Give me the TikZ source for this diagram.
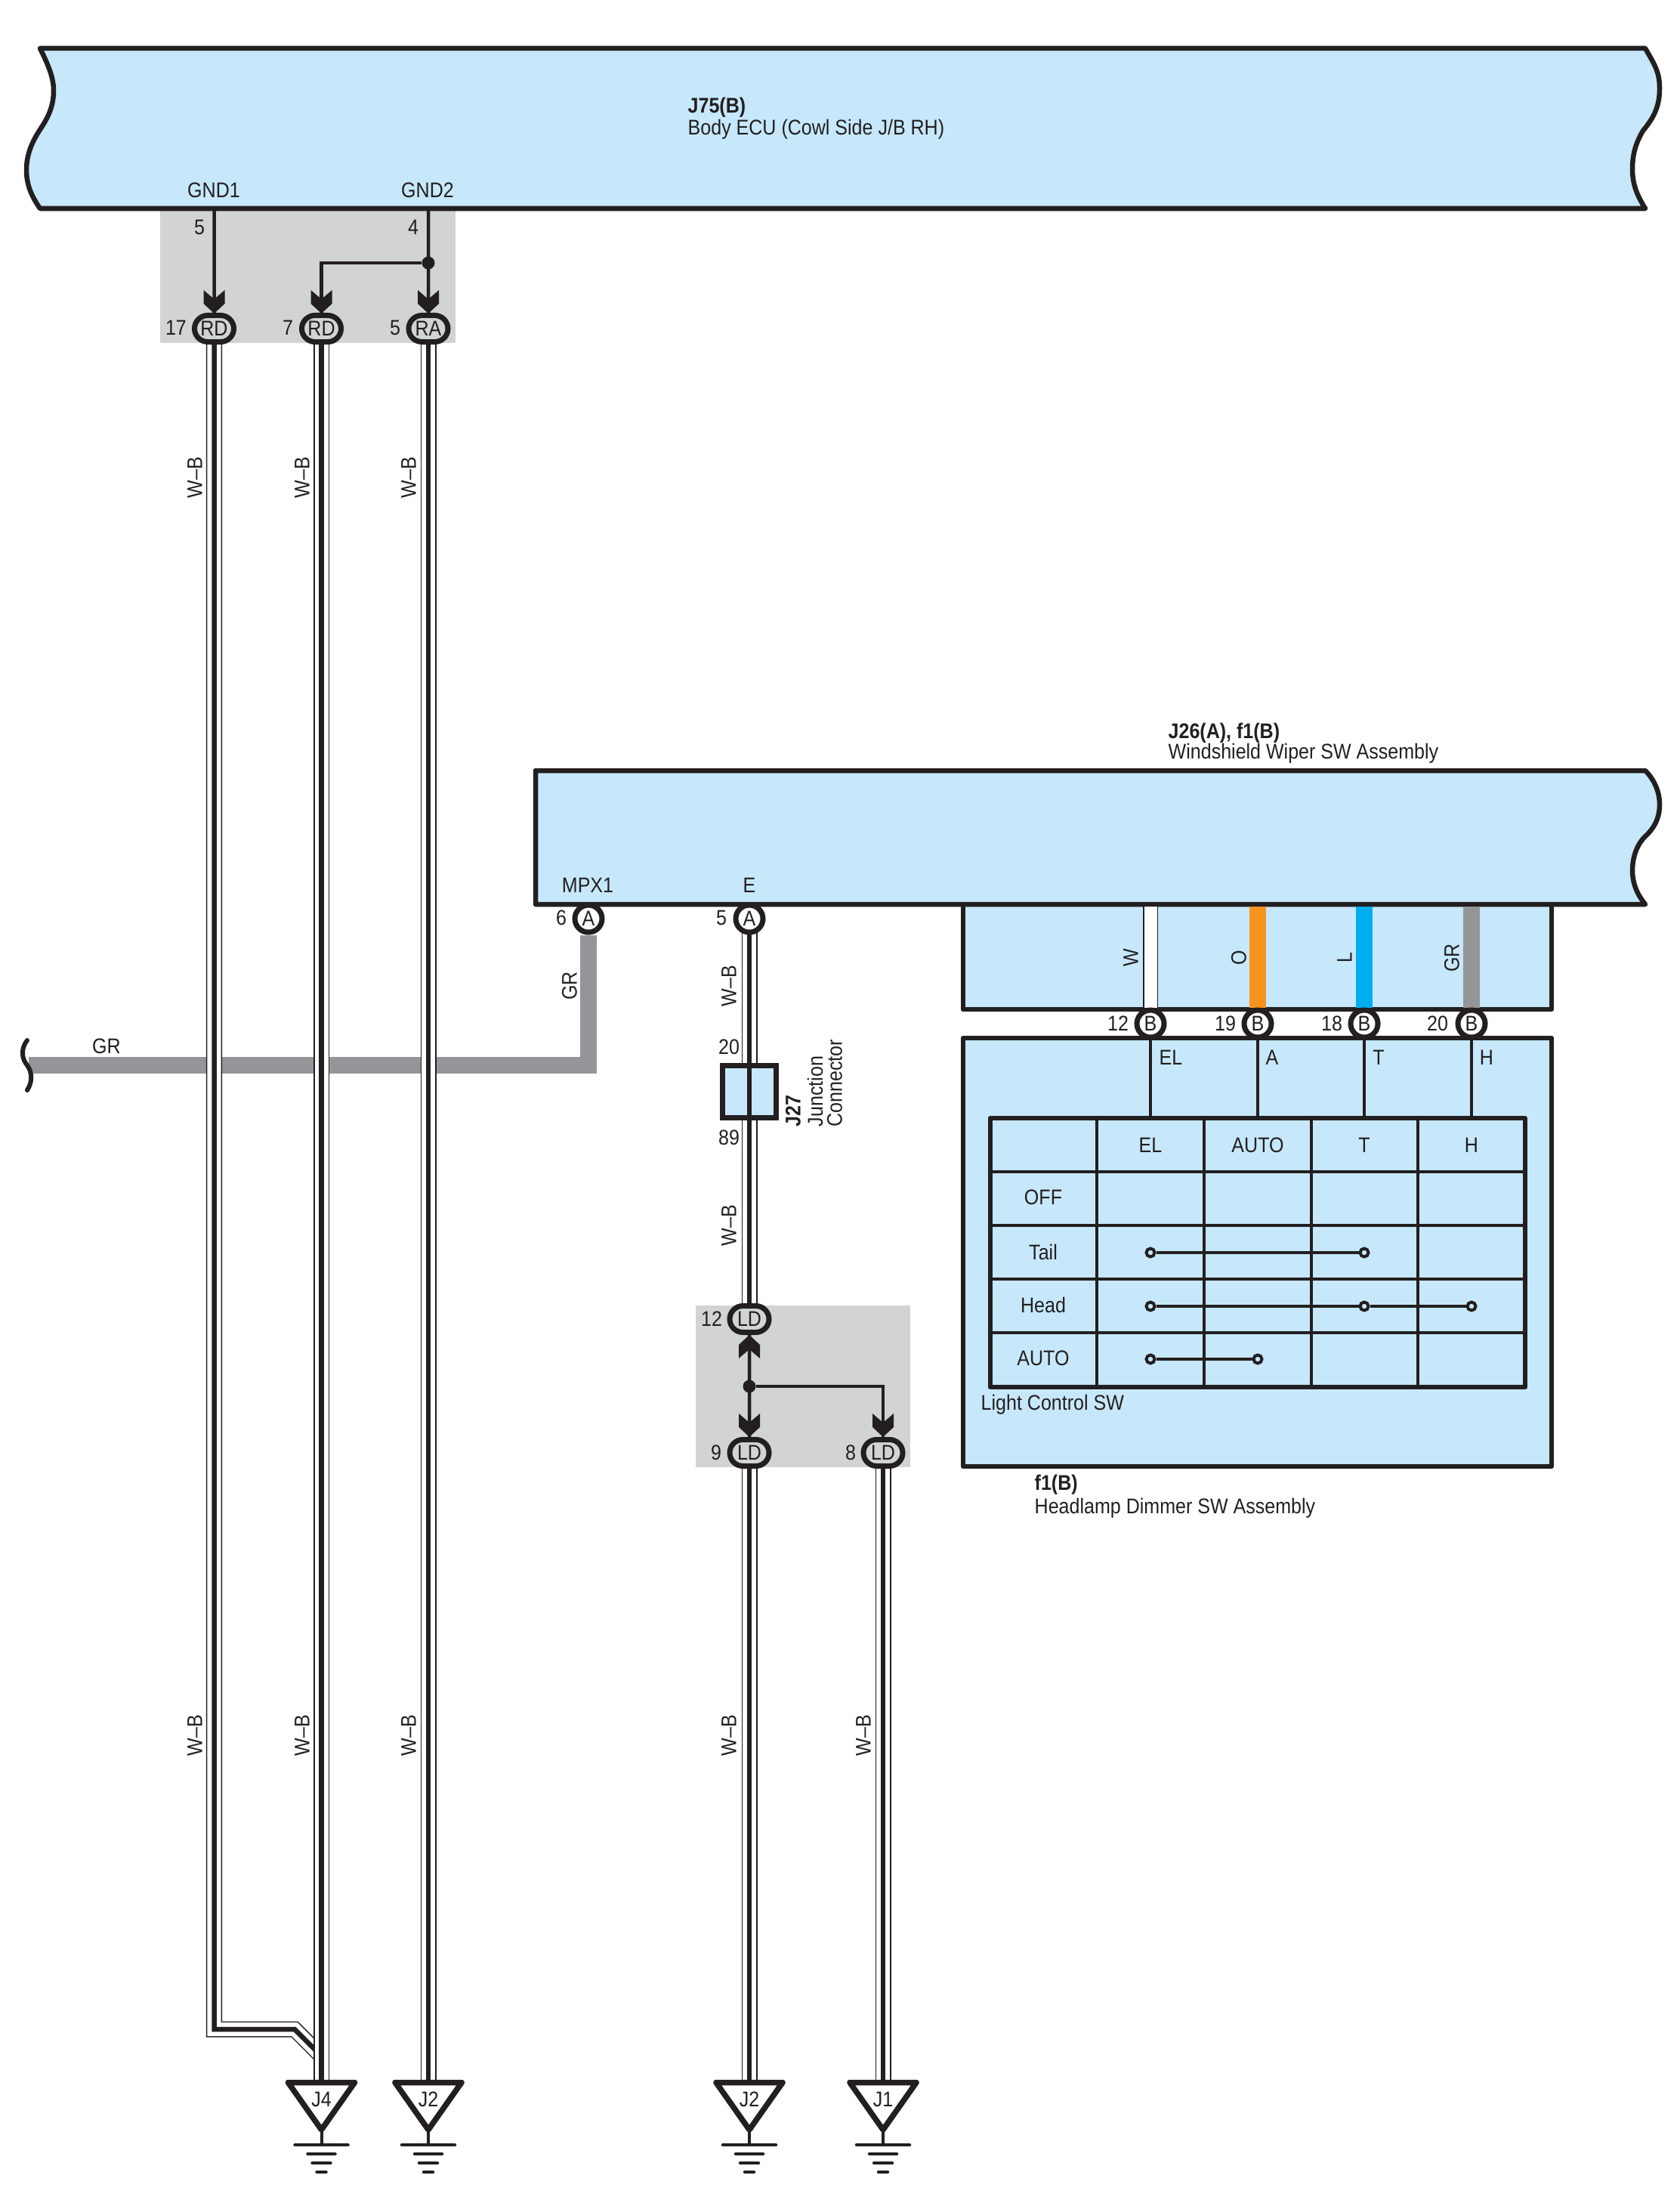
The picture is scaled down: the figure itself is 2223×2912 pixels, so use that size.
\documentclass[tikz,border=0pt]{standalone}
\usepackage{fontspec}
\setmainfont[FakeStretch=0.89]{Liberation Sans}
\usetikzlibrary{shapes.misc}
\usetikzlibrary{backgrounds}

\definecolor{ink}{HTML}{231F20}
\definecolor{boxblue}{HTML}{C7E8FB}
\definecolor{boxgray}{HTML}{D1D3D4}
\definecolor{wiregray}{HTML}{939598}
\definecolor{wireorange}{HTML}{F7941E}
\definecolor{wireblue}{HTML}{00AEEF}

\tikzset{
  lbl/.style={inner sep=0pt,text=ink,font=\fontsize{8}{9.6}\selectfont},
  vlbl/.style={lbl,rotate=90},
  boldlbl/.style={lbl,font=\fontsize{8}{9.6}\selectfont\bfseries},
  boxline/.style={draw=ink,fill=boxblue,line width=.065cm,line join=round},
  thinwire/.style={draw=ink,line width=.045cm},
  wbwire/.style={draw=ink,line width=.065cm,
    preaction={draw=ink,line width=.21cm},
    preaction={draw=white,line width=.18cm}},
  colwire/.style={line width=.22cm},
  oval/.style={lbl,draw=ink,line width=.07cm,rounded rectangle,
    minimum width=.52cm,minimum height=.35cm,fill=boxgray},
  pin/.style={lbl,draw=ink,line width=.07cm,circle,minimum size=.36cm,fill=white},
  dot/.style={circle,fill=ink,inner sep=0pt,minimum size=.17cm},
  contact/.style={circle,draw=ink,fill=boxblue,line width=.04cm,inner sep=0pt,minimum size=.11cm},
  gridline/.style={draw=ink,line width=.045cm},
}

% arrow tip on a wire: x, y of the point, 1 points down and -1 points up
\newcommand{\chevtip}[3]{
  \fill[ink] (#1-14,#2-31*#3) -- (#1,#2-19*#3) -- (#1+14,#2-31*#3)
    -- (#1+14,#2-13*#3) -- (#1,#2) -- (#1-14,#2-13*#3) -- cycle;
}
% earth point: x, name, text
\newcommand{\earth}[3]{
  \coordinate (#2) at (#1,2756);
  \node[lbl] (#2txt) at (#1,2779) {#3};
  \draw[draw=ink,line width=.075cm,line join=round] (#1-44,2756.5) -- (#1+44,2756.5) -- (#1,2819) -- cycle;
  \draw[draw=ink,line width=.04cm] (#1,2819) -- (#1,2839);
  \draw[draw=ink,line width=.045cm,line cap=round] (#1-35,2839) -- (#1+35,2839);
  \draw[draw=ink,line width=.045cm,line cap=round] (#1-18,2851) -- (#1+18,2851);
  \draw[draw=ink,line width=.045cm,line cap=round] (#1-12,2863) -- (#1+12,2863);
  \draw[draw=ink,line width=.045cm,line cap=round] (#1-6,2875) -- (#1+6,2875);
}

\begin{document}
\begin{tikzpicture}[x=.01cm,y=-.01cm]
  \useasboundingbox (0,0) rectangle (2223,2912);

  % connectors
  \node[oval] (rdA) at (283.5,435) {RD};
  \node[oval] (rdB) at (425.5,435) {RD};
  \node[oval] (raA) at (567,435) {RA};
  \node[oval] (ldTop) at (992,1746) {LD};
  \node[oval] (ldLeft) at (992,1923) {LD};
  \node[oval] (ldRight) at (1169,1923) {LD};
  \node[pin] (mpxPin) at (779,1216) {A};
  \node[pin] (ePin) at (992,1216) {A};
  \node[pin] (bEL) at (1523,1355) {B};
  \node[pin] (bA) at (1665,1355) {B};
  \node[pin] (bT) at (1806,1355) {B};
  \node[pin] (bH) at (1948,1355) {B};
  \node[draw=ink,fill=boxblue,line width=.07cm,minimum width=.715cm,minimum height=.69cm,inner sep=0pt]
    (jcBox) at (992,1445) {};

  % ground side
  \earth{425.5}{jfour}{J4}
  \earth{567}{jtwoA}{J2}
  \earth{992}{jtwoB}{J2}
  \earth{1169}{jone}{J1}

  % fixed ends
  \coordinate (gndOne) at (283.5,276);
  \coordinate (gndTwo) at (567,276);
  \coordinate (grEnd) at (38,1410);
  \coordinate (wTop) at (1523,1200);
  \coordinate (oTop) at (1665,1200);
  \coordinate (lTop) at (1806,1200);
  \coordinate (grTop) at (1948,1200);
  \coordinate (tabTop) at (1311,1480);
  \coordinate (bendA) at (390,2686);
  \coordinate (joinA) at (425,2721);
  \node[dot] (dotA) at (567,348) {};
  \node[dot] (dotB) at (992,1835) {};

  \begin{scope}[on background layer]
    \fill[boxgray] (212,276) rectangle (603,454);
    \fill[boxgray] (921,1728) rectangle (1205,1942);
    \draw[boxline] (1275,1197) rectangle (2054,1336);
    \draw[boxline] (1275,1374) rectangle (2054,1941);
    \draw[boxline] (53,64) -- (2178,64)
      .. controls (2190,85) and (2197,95) .. (2197,117)
      .. controls (2197,140) and (2190,155) .. (2175,173)
      .. controls (2165,190) and (2161,205) .. (2161,224)
      .. controls (2161,245) and (2168,260) .. (2178,276)
      -- (53,276)
      .. controls (42,260) and (35,245) .. (35,225)
      .. controls (35,205) and (42,188) .. (54,170)
      .. controls (64,155) and (71,140) .. (71,120)
      .. controls (71,105) and (66,90) .. (53,64) -- cycle;
    \draw[boxline] (709,1020) -- (2178,1020)
      .. controls (2190,1032) and (2197,1048) .. (2197,1065)
      .. controls (2197,1085) and (2188,1098) .. (2177,1108)
      .. controls (2167,1118) and (2161,1135) .. (2161,1152)
      .. controls (2161,1170) and (2168,1185) .. (2178,1197)
      -- (709,1197) -- cycle;

    % wires
    \draw[colwire,wiregray] (grEnd) -| (mpxPin.south);
    \draw[wbwire] (rdA.center) |- (bendA) -- (joinA);
    \draw[wbwire] (rdB.center) -- (jfour);
    \draw[wbwire] (raA.center) -- (jtwoA);
    \draw[wbwire] (ePin.center) -- (jcBox.center);
    \draw[wbwire] (jcBox.center) -- (ldTop.center);
    \draw[wbwire] (ldLeft.center) -- (jtwoB);
    \draw[wbwire] (ldRight.center) -- (jone);
    \draw[draw=ink,line width=.2cm] (wTop) -- (bEL.north);
    \draw[draw=white,line width=.17cm] (wTop) -- (bEL.north);
    \draw[colwire,wireorange] (oTop) -- (bA.north);
    \draw[colwire,wireblue] (lTop) -- (bT.north);
    \draw[colwire,wiregray] (grTop) -- (bH.north);
  \end{scope}

  \draw[draw=ink,line width=.055cm] (jcBox.north) -- (jcBox.south);
  \draw[draw=ink,line width=.06cm,line cap=round] (36,1377)
    .. controls (26,1390) and (30,1403) .. (36,1410)
    .. controls (43,1420) and (43,1432) .. (36,1443);

  % splices
  \draw[thinwire] (gndOne) -- (rdA);
  \draw[thinwire] (gndTwo) -- (raA);
  \draw[thinwire] (dotA) -| (rdB);
  \chevtip{283.5}{415}{1}
  \chevtip{425.5}{415}{1}
  \chevtip{567}{415}{1}
  \draw[thinwire] (ldTop) -- (ldLeft);
  \draw[thinwire] (dotB) -| (ldRight);
  \chevtip{992}{1767}{-1}
  \chevtip{992}{1902}{1}
  \chevtip{1169}{1902}{1}

  % switch table
  \draw[thinwire] (bEL) -- (bEL |- tabTop);
  \draw[thinwire] (bA) -- (bA |- tabTop);
  \draw[thinwire] (bT) -- (bT |- tabTop);
  \draw[thinwire] (bH) -- (bH |- tabTop);
  \draw[draw=ink,line width=.06cm,line join=round] (tabTop) rectangle (2019,1836);
  \draw[gridline] (1311,1551) -- (2019,1551);
  \draw[gridline] (1311,1622) -- (2019,1622);
  \draw[gridline] (1311,1693) -- (2019,1693);
  \draw[gridline] (1311,1764) -- (2019,1764);
  \draw[gridline] (1452,1480) -- (1452,1836);
  \draw[gridline] (1594,1480) -- (1594,1836);
  \draw[gridline] (1736,1480) -- (1736,1836);
  \draw[gridline] (1877,1480) -- (1877,1836);
  \node[contact] (tailEL) at (1523,1658) {};
  \node[contact] (tailT) at (1806,1658) {};
  \node[contact] (headEL) at (1523,1729) {};
  \node[contact] (headT) at (1806,1729) {};
  \node[contact] (headH) at (1948,1729) {};
  \node[contact] (autoEL) at (1523,1799) {};
  \node[contact] (autoA) at (1665,1799) {};
  \draw[thinwire] (tailEL) -- (tailT);
  \draw[thinwire] (headEL) -- (headT);
  \draw[thinwire] (headT) -- (headH);
  \draw[thinwire] (autoEL) -- (autoA);

  % texts
  \node[boldlbl,anchor=west] (txtJ75) at (910,142) {J75(B)};
  \node[lbl,anchor=west] (txtBody) at (910,171) {Body ECU (Cowl Side J/B RH)};
  \node[boldlbl,anchor=west] (txtJ26) at (1546,970) {J26(A), f1(B)};
  \node[lbl,anchor=west] (txtWiper) at (1546,997) {Windshield Wiper SW Assembly};
  \node[boldlbl,anchor=west] (txtF1) at (1369,1965) {f1(B)};
  \node[lbl,anchor=west] (txtDimmer) at (1369,1996) {Headlamp Dimmer SW Assembly};
  \node[lbl,anchor=west] (txtLight) at (1298,1859) {Light Control SW};
  \node[lbl] (txtGndOne) at (283,252) {GND1};
  \node[lbl] (txtGndTwo) at (566,252) {GND2};
  \node[lbl] (numFive) at (264,301) {5};
  \node[lbl] (numFour) at (547,301) {4};
  \node[lbl] (numSeventeen) at (233,434) {17};
  \node[lbl] (numSeven) at (381,434) {7};
  \node[lbl] (numFiveB) at (523,434) {5};
  \node[lbl] (txtMpx) at (778,1172) {MPX1};
  \node[lbl] (txtE) at (992,1172) {E};
  \node[lbl] (numSix) at (743,1215) {6};
  \node[lbl] (numFiveC) at (955,1215) {5};
  \node[lbl] (numTwenty) at (965,1386) {20};
  \node[lbl] (numEightNine) at (965,1506) {89};
  \node[boldlbl,rotate=90,anchor=west] (txtJ27) at (1050,1492) {J27};
  \node[vlbl,anchor=west] (txtJunction) at (1079,1492) {Junction};
  \node[vlbl,anchor=west] (txtConnector) at (1105,1492) {Connector};
  \node[lbl] (numTwelveL) at (942,1746) {12};
  \node[lbl] (numNine) at (948,1923) {9};
  \node[lbl] (numEight) at (1126,1923) {8};
  \node[lbl] (txtGrA) at (141,1385) {GR};
  \node[vlbl] (txtGrB) at (754,1305) {GR};
  \node[vlbl] (wbA) at (258,632) {W--B};
  \node[vlbl] (wbB) at (400,632) {W--B};
  \node[vlbl] (wbC) at (541,632) {W--B};
  \node[vlbl] (wbD) at (258,2297) {W--B};
  \node[vlbl] (wbE) at (400,2297) {W--B};
  \node[vlbl] (wbF) at (541,2297) {W--B};
  \node[vlbl] (wbG) at (965,1305) {W--B};
  \node[vlbl] (wbH) at (965,1622) {W--B};
  \node[vlbl] (wbI) at (965,2297) {W--B};
  \node[vlbl] (wbJ) at (1143,2297) {W--B};
  \node[vlbl] (txtW) at (1497,1268) {W};
  \node[vlbl] (txtO) at (1640,1268) {O};
  \node[vlbl] (txtL) at (1780,1268) {L};
  \node[vlbl] (txtGrC) at (1922,1268) {GR};
  \node[lbl] (numTwelve) at (1480,1355) {12};
  \node[lbl] (numNineteen) at (1622,1355) {19};
  \node[lbl] (numEighteen) at (1763,1355) {18};
  \node[lbl] (numTwentyB) at (1903,1355) {20};
  \node[lbl] (pinEL) at (1550,1400) {EL};
  \node[lbl] (pinA) at (1684,1400) {A};
  \node[lbl] (pinT) at (1825,1400) {T};
  \node[lbl] (pinH) at (1968,1400) {H};
  \node[lbl] (colEL) at (1523,1516) {EL};
  \node[lbl] (colAuto) at (1665,1516) {AUTO};
  \node[lbl] (colT) at (1806,1516) {T};
  \node[lbl] (colH) at (1948,1516) {H};
  \node[lbl] (rowOff) at (1381,1585) {OFF};
  \node[lbl] (rowTail) at (1381,1657) {Tail};
  \node[lbl] (rowHead) at (1381,1727) {Head};
  \node[lbl] (rowAuto) at (1381,1798) {AUTO};
\end{tikzpicture}
\end{document}
